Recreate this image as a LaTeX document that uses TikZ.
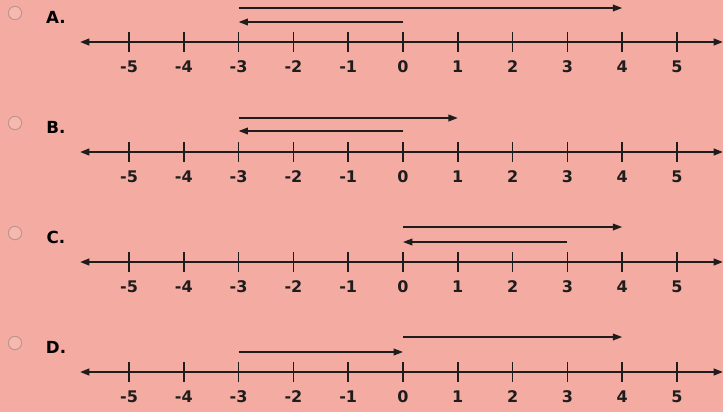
\documentclass[tikz,border=0pt]{standalone}
\usepackage{fontspec}
\setmainfont{DejaVu Sans}
\usetikzlibrary{arrows.meta, calc}
\definecolor{sheetpink}{RGB}{244,171,161}
\definecolor{inkgray}{RGB}{30,28,28}
\tikzset{
  numline/.style={
    line width=1.5pt, draw=inkgray,
    {Triangle[length=7pt,width=5pt]}-{Triangle[length=7pt,width=5pt]}
  },
  tickmark/.style={line width=1.3pt, draw=inkgray},
  ticklabel/.style={
    font=\bfseries\fontsize{12}{14}\selectfont, text=inkgray
  },
  jumparrow/.style={
    line width=1.1pt, draw=inkgray, -{Triangle[length=7pt,width=5pt]}
  },
  choicelabel/.style={
    font=\bfseries\fontsize{12.5}{14}\selectfont, text=black
  },
  radiobtn/.style={
    circle, draw=gray!50!sheetpink, fill=white!15!sheetpink, line width=0.7pt,
    minimum size=10pt, inner sep=0pt
  },
}
\begin{document}
\begin{tikzpicture}[x=0.75pt, y=-0.75pt]
  % page
  \fill[sheetpink] (0,0) rectangle (723,412);
  \useasboundingbox (0,0) rectangle (723,412);

  % the four number lines
  \foreach \L/\Y in {A/42, B/152, C/262, D/372} {
    \node[radiobtn] (radio\L) at (15,\Y-29) {};
    \node[choicelabel] (opt\L) at (56,\Y-25) {\L.};
    \coordinate (left\L) at (80,\Y);
    \coordinate (right\L) at (723,\Y);
    \draw[numline] (left\L) -- (right\L);
    \foreach \n in {-5,...,5} {
      \coordinate (t\L\n) at ({403+54.8*\n},\Y);
      \draw[tickmark] ($(t\L\n)+(0,-10)$) -- ($(t\L\n)+(0,10)$);
      \node[ticklabel] (n\L\n) at ($(t\L\n)+(0,25)$) {\n};
    }
  }

  % jumps drawn above each line
  \foreach \L/\a/\b/\h in {A/-3/4/34, A/0/-3/20, B/-3/1/34, B/0/-3/21,
                           C/0/4/35, C/3/0/20, D/0/4/35, D/-3/0/20} {
    \coordinate (s\L\a\b) at ($(t\L\a)+(0,-\h)$);
    \coordinate (e\L\a\b) at ($(t\L\b)+(0,-\h)$);
    \draw[jumparrow] (s\L\a\b) -- (e\L\a\b);
  }
\end{tikzpicture}
\end{document}
